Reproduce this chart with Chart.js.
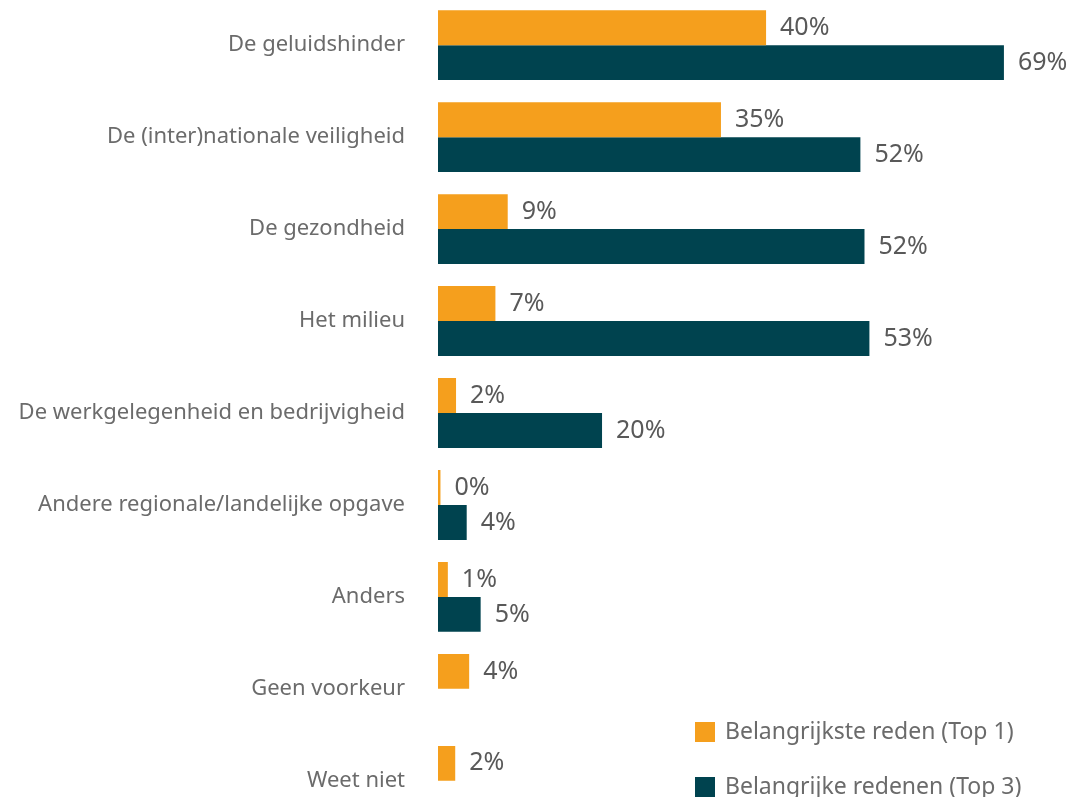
<!DOCTYPE html>
<html>
<head>
<meta charset="utf-8">
<script src="https://cdn.jsdelivr.net/npm/chart.js@4"></script>
<style>
  body { margin: 0; overflow: hidden; background: #fff; font-family: "Noto Sans", "Open Sans", sans-serif; }
  #wrap { position: relative; width: 1072px; height: 797px; overflow: hidden; }
  #chart { position: absolute; left: 0; top: -47px; }
  .legend { position: absolute; left: 695px; height: 20px; line-height: 20px; color: #6b6b6b; font-size: 23px; white-space: nowrap; }
  .legend .box { position: absolute; left: 0; top: 0; width: 20px; height: 20px; }
  .legend .txt { position: absolute; left: 30px; top: -2px; }
</style>
</head>
<body>
<div id="wrap">
  <canvas id="chart" width="1072" height="920"></canvas>
  <div class="legend" style="top:722px"><span class="box" style="background:#F59F1D"></span><span class="txt">Belangrijkste reden (Top 1)</span></div>
  <div class="legend" style="top:777px"><span class="box" style="background:#00434F"></span><span class="txt">Belangrijke redenen (Top 3)</span></div>
</div>
<script>
// categories (top to bottom)
const categories = [
  "De geluidshinder",
  "De (inter)nationale veiligheid",
  "De gezondheid",
  "Het milieu",
  "De werkgelegenheid en bedrijvigheid",
  "Andere regionale/landelijke opgave",
  "Anders",
  "Geen voorkeur",
  "Weet niet"
];
// % values
const top1 = [40, 34.5, 8.5, 7, 2.2, 0.3, 1.2, 3.8, 2.1];
const top3 = [69, 51.5, 52, 52.6, 20, 3.5, 5.2, null, null];

const seriesNames = ["Belangrijkste reden (Top 1)", "Belangrijke redenen (Top 3)"];
const colors = ["#F59F1D", "#00434F"];

// draws the "40%" style labels next to each bar
const valueLabels = {
  id: "valueLabels",
  afterDatasetsDraw(chart) {
    const ctx = chart.ctx;
    ctx.save();
    ctx.font = "25px 'Noto Sans'";
    ctx.fillStyle = "#595959";
    ctx.textAlign = "left";
    ctx.textBaseline = "middle";
    chart.data.datasets.forEach((ds, i) => {
      chart.getDatasetMeta(i).data.forEach((bar, j) => {
        const v = ds.data[j];
        if (v === null) return;
        ctx.fillText(Math.round(v) + "%", bar.x + 14, bar.y);
      });
    });
    ctx.restore();
  }
};

new Chart(document.getElementById("chart"), {
  type: "bar",
  data: {
    labels: categories,
    datasets: [
      { label: seriesNames[0], data: top1, backgroundColor: colors[0] },
      { label: seriesNames[1], data: top3, backgroundColor: colors[1] }
    ]
  },
  options: {
    indexAxis: "y",
    responsive: false,
    animation: false,
    layout: { padding: 0 },
    datasets: { bar: { categoryPercentage: 0.76, barPercentage: 1 } },
    plugins: { legend: { display: false }, tooltip: { enabled: false } },
    scales: {
      x: { display: false, min: 0, max: 77.3 },
      y: {
        grid: { display: false, drawTicks: false },
        border: { display: false },
        ticks: { padding: 33, color: "#6b6b6b", font: { family: "Noto Sans", size: 22 } },
        afterFit: (scale) => { scale.width = 438; }
      }
    }
  },
  plugins: [valueLabels]
});
</script>
</body>
</html>
